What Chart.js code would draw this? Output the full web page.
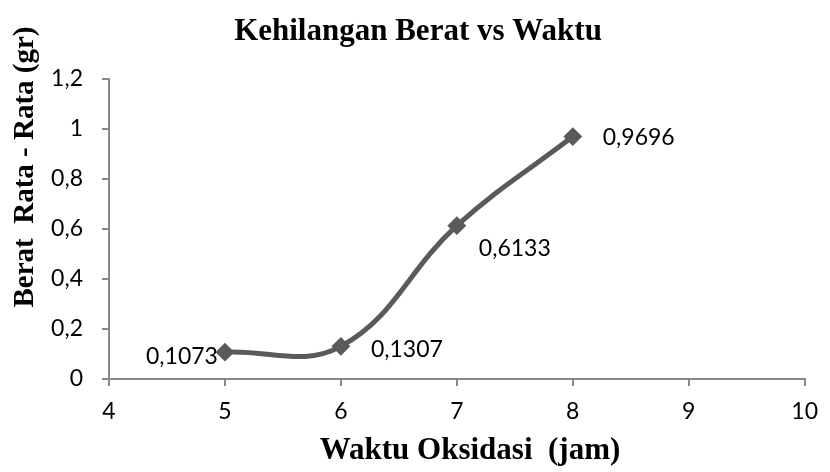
<!DOCTYPE html>
<html>
<head>
<meta charset="utf-8">
<script src="https://cdn.jsdelivr.net/npm/chart.js@4.4.1/dist/chart.umd.min.js"></script>
<style>
  html, body { margin: 0; padding: 0; background: #ffffff; }
  #wrap { width: 830px; height: 472px; position: relative; }
</style>
</head>
<body>
<div id="wrap"><canvas id="c" width="830" height="472"></canvas></div>
<script>
// ---- data ----
const xValues = [5, 6, 7, 8];
const yValues = [0.1073, 0.1307, 0.6133, 0.9696];
const pointLabels = ['0,1073', '0,1307', '0,6133', '0,9696'];
const xTickLabels = ['4', '5', '6', '7', '8', '9', '10'];
const yTickLabels = ['0', '0,2', '0,4', '0,6', '0,8', '1', '1,2'];
const chartTitle = 'Kehilangan Berat vs Waktu';
const xAxisTitle = 'Waktu Oksidasi  (jam)';
const yAxisTitle = 'Berat  Rata - Rata (gr)';

// ---- styles ----
const lineColor = '#5a5a5a';
const axisColor = '#898989';
const tickFont = { family: 'Lato', size: 23 };
const serifFamily = '"Liberation Serif", "Times New Roman", serif';
// label offset relative to each point: [dx, dy, align]
const labelOffsets = [[-7, 4, 'right'], [30, 3, 'left'], [22, 23, 'left'], [30, 1, 'left']];

const textPlugin = {
  id: 'texts',
  afterDatasetsDraw(chart) {
    const ctx = chart.ctx;
    const meta = chart.getDatasetMeta(0);
    ctx.save();
    ctx.fillStyle = '#000';
    ctx.font = '23px Lato';
    ctx.textBaseline = 'middle';
    meta.data.forEach((pt, i) => {
      const o = labelOffsets[i];
      ctx.textAlign = o[2];
      ctx.fillText(pointLabels[i], pt.x + o[0], pt.y + o[1]);
    });
    ctx.restore();
  },
  afterDraw(chart) {
    const ctx = chart.ctx;
    ctx.save();
    ctx.fillStyle = '#000';
    ctx.textAlign = 'center';
    ctx.textBaseline = 'middle';
    ctx.font = 'bold 31px ' + serifFamily;
    ctx.fillText(chartTitle, 418, 32);
    ctx.font = 'bold 31px ' + serifFamily;
    ctx.fillText(xAxisTitle, 470, 451);
    ctx.font = 'bold 29px ' + serifFamily;
    ctx.translate(26, 167);
    ctx.rotate(-Math.PI / 2);
    ctx.fillText(yAxisTitle, 0, 0);
    ctx.restore();
  }
};

new Chart(document.getElementById('c'), {
  type: 'line',
  data: {
    datasets: [{
      data: xValues.map((x, i) => ({ x: x, y: yValues[i] })),
      borderColor: lineColor,
      backgroundColor: lineColor,
      borderWidth: 5,
      tension: 0.4,
      pointStyle: 'rectRot',
      pointRadius: 8,
      pointBorderWidth: 2,
      pointBorderColor: lineColor,
      pointBackgroundColor: lineColor,
      fill: false
    }]
  },
  options: {
    responsive: false,
    animation: false,
    devicePixelRatio: 1,
    layout: { padding: { left: 0, right: 19, top: 79, bottom: 0 } },
    plugins: {
      legend: { display: false },
      title: { display: false },
      tooltip: { enabled: false }
    },
    scales: {
      x: {
        type: 'linear',
        min: 4,
        max: 10,
        afterBuildTicks(scale) {
          scale.ticks = xTickLabels.map(v => ({ value: parseFloat(v) }));
        },
        ticks: {
          color: '#000',
          font: tickFont,
          padding: 12,
          maxRotation: 0,
          callback: (v, i) => xTickLabels[i]
        },
        grid: { drawOnChartArea: false, drawTicks: true, tickLength: 7, color: axisColor, lineWidth: 2 },
        border: { display: true, color: axisColor, width: 2 },
        afterFit(scale) { scale.height = 93; }
      },
      y: {
        type: 'linear',
        min: 0,
        max: 1.2,
        afterBuildTicks(scale) {
          scale.ticks = yTickLabels.map(v => ({ value: parseFloat(v.replace(',', '.')) }));
        },
        ticks: {
          color: '#000',
          font: tickFont,
          padding: 19,
          callback: (v, i) => yTickLabels[i]
        },
        grid: { drawOnChartArea: false, drawTicks: true, tickLength: 7, color: axisColor, lineWidth: 2 },
        border: { display: true, color: axisColor, width: 2 },
        afterFit(scale) { scale.width = 109; }
      }
    }
  },
  plugins: [textPlugin]
});
</script>
</body>
</html>
